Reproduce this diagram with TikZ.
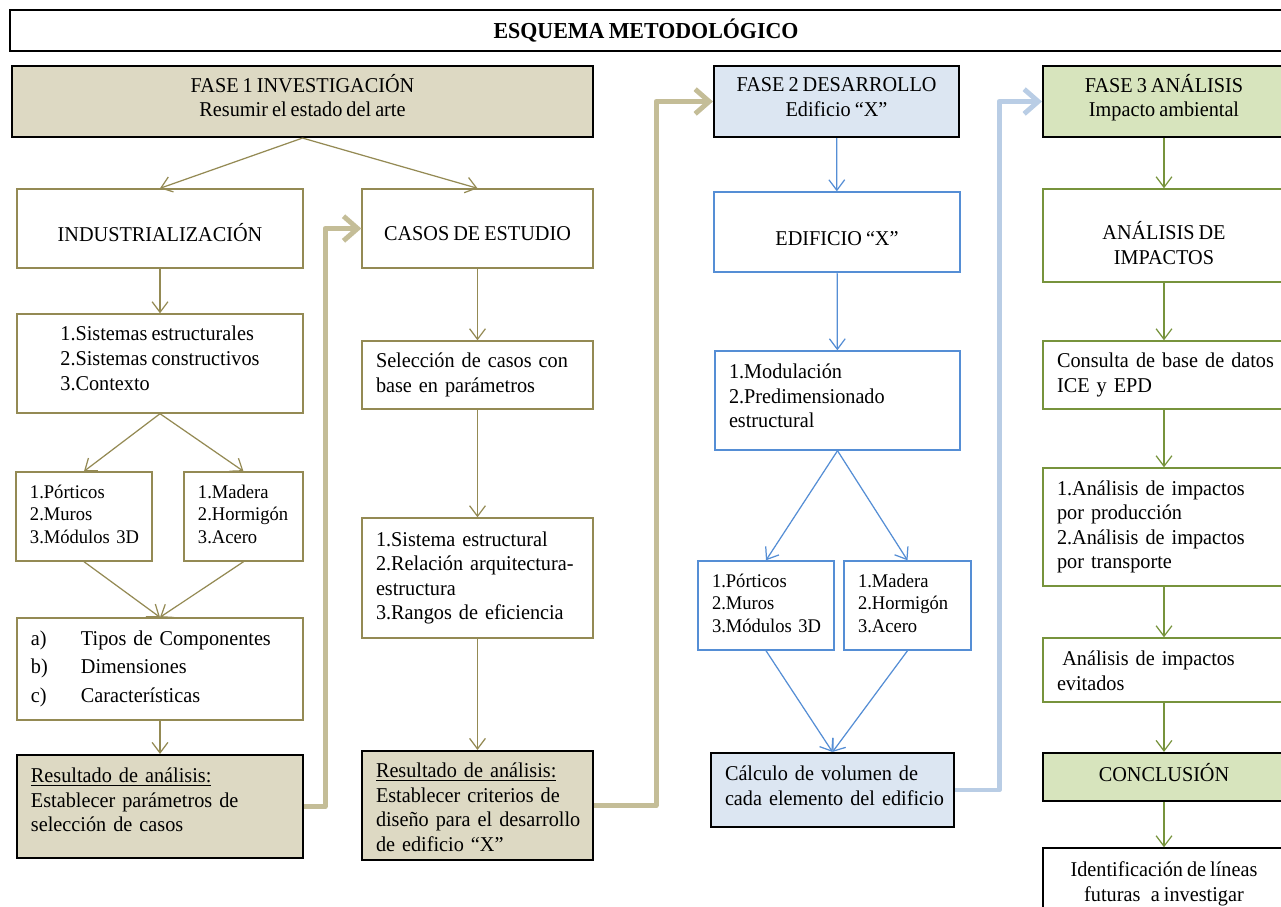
\documentclass[tikz,border=0pt]{standalone}
\usepackage{fontspec}
\setmainfont[FakeStretch=0.96,WordSpace=0.8]{Liberation Serif}
\usetikzlibrary{arrows.meta}

\definecolor{tanfill}{HTML}{DDD9C3}
\definecolor{tanline}{HTML}{948A54}
\definecolor{tanpath}{HTML}{C4BD97}
\definecolor{bluefill}{HTML}{DCE6F2}
\definecolor{blueline}{HTML}{558ED5}
\definecolor{bluepath}{HTML}{B9CDE5}
\definecolor{greenfill}{HTML}{D7E4BD}
\definecolor{greenline}{HTML}{77933C}

\newcommand{\rows}[1]{\begin{tabular}{@{}l@{}}#1\end{tabular}}
\newcommand{\crows}[1]{\begin{tabular}{@{}c@{}}#1\end{tabular}}
\newcommand{\moved}[2]{\raisebox{#1}[\height][\depth]{#2}}

\tikzset{
  cbox/.style 2 args={rectangle, draw, line width=0.8pt, inner sep=0pt,
    minimum width=#1*0.02cm, minimum height=#2*0.02cm, align=center},
  lbox/.style 2 args={rectangle, draw, line width=0.8pt, inner ysep=0pt,
    inner xsep=0.28cm, minimum width=#1*0.02cm, minimum height=#2*0.02cm,
    text width=#1*0.02cm-0.56cm, align=left},
  phase/.style={draw=black, line width=1.2pt},
  olivebox/.style={draw=tanline},
  bluebox/.style={draw=blueline},
  greenbox/.style={draw=greenline},
  small/.style={font=\fontsize{11}{12.6}\selectfont},
  arr/.style={-{Straight Barb[length=6pt,width=9pt]}, line width=0.7pt},
  link/.style={-{Straight Barb[length=8pt,width=14pt]}, line width=2.8pt,
    line join=round}
}

\begin{document}
\begin{tikzpicture}[x=0.02cm, y=-0.02cm, font=\fontsize{12}{14}\selectfont]
  \fill[white] (0,0) rectangle (1281,906);
  \useasboundingbox (0,0) rectangle (1281,906);

  % Title
  \node[cbox={1272}{41}, phase, font=\fontsize{13}{14}\selectfont\bfseries]
    (titulo) at (646,30.5) {ESQUEMA METODOLÓGICO};

  % Fase 1
  \node[cbox={581}{71}, phase, fill=tanfill] (fase1) at (302.5,101.5)
    {\moved{1.3pt}{\crows{FASE 1 INVESTIGACIÓN\\Resumir el estado del arte}}};
  \node[cbox={286}{79}, olivebox] (indus) at (160,228.5)
    {\moved{-2.3pt}{INDUSTRIALIZACIÓN}};
  \node[cbox={231}{79}, olivebox] (casos) at (477.5,228.5)
    {\moved{-2.8pt}{CASOS DE ESTUDIO}};
  \node[cbox={286}{99}, olivebox] (sist) at (160,363.5)
    {\moved{1.7pt}{\rows{1.Sistemas estructurales\\2.Sistemas constructivos\\3.Contexto}}};
  \node[lbox={136}{89}, olivebox, small] (port1) at (84,516.5)
    {\rows{1.Pórticos\\2.Muros\\3.Módulos 3D}};
  \node[lbox={119}{89}, olivebox, small] (mat1) at (243.5,516.5)
    {\rows{1.Madera\\2.Hormigón\\3.Acero}};
  \node[lbox={286}{102}, olivebox] (comp) at (160,669)
    {\begin{tabular}{@{}p{1cm}@{}l@{}}
      a) & Tipos de Componentes\\[2pt]
      b) & Dimensiones\\[2pt]
      c) & Características
    \end{tabular}};
  \node[lbox={286}{103}, phase, fill=tanfill] (res1) at (160,806.5)
    {\moved{2.3pt}{\rows{\underline{Resultado de análisis:}\\Establecer parámetros de\\selección de casos}}};
  \node[lbox={231}{68}, olivebox] (selec) at (477.5,375)
    {\rows{Selección de casos con\\base en parámetros}};
  \node[lbox={231}{120}, olivebox] (crit) at (477.5,578)
    {\rows{1.Sistema estructural\\2.Relación arquitectura-\\estructura\\3.Rangos de eficiencia}};
  \node[lbox={231}{109}, phase, fill=tanfill] (res2) at (477.5,805.5)
    {\moved{-2.3pt}{\rows{\underline{Resultado de análisis:}\\Establecer criterios de\\diseño para el desarrollo\\de edificio “X”}}};

  \draw[arr, tanline] (fase1.south) -- (indus.north);
  \draw[arr, tanline] (fase1.south) -- (casos.north);
  \draw[arr, tanline] (indus) -- (sist);
  \draw[arr, tanline] (sist.south) -- (port1.north);
  \draw[arr, tanline] (sist.south) -- (mat1.north);
  \draw[arr, tanline] (port1.south) -- (comp.north);
  \draw[arr, tanline] (mat1.south) -- (comp.north);
  \draw[arr, tanline] (comp) -- (res1);
  \draw[arr, tanline] (casos) -- (selec);
  \draw[arr, tanline] (selec) -- (crit);
  \draw[arr, tanline] (crit) -- (res2);

  % Fase 2
  \node[cbox={245}{71}, phase, fill=bluefill] (fase2) at (836.5,101.5)
    {\moved{1.3pt}{\crows{FASE 2 DESARROLLO\\Edificio “X”}}};
  \node[cbox={246}{80}, bluebox] (edif) at (837,232)
    {\moved{-4pt}{EDIFICIO “X”}};
  \node[lbox={245}{99}, bluebox] (modul) at (837.5,400.5)
    {\moved{1.2pt}{\rows{1.Modulación\\2.Predimensionado\\estructural}}};
  \node[lbox={136}{89}, bluebox, small] (port2) at (766,605.5)
    {\rows{1.Pórticos\\2.Muros\\3.Módulos 3D}};
  \node[lbox={127}{89}, bluebox, small] (mat2) at (907.5,605.5)
    {\rows{1.Madera\\2.Hormigón\\3.Acero}};
  \node[lbox={243}{74}, phase, fill=bluefill] (calc) at (832.5,790)
    {\moved{1pt}{\rows{Cálculo de volumen de\\cada elemento del edificio}}};

  \draw[arr, blueline] (fase2) -- (edif);
  \draw[arr, blueline] (edif) -- (modul);
  \draw[arr, blueline] (modul.south) -- (port2.north);
  \draw[arr, blueline] (modul.south) -- (mat2.north);
  \draw[arr, blueline] (port2.south) -- (calc.north);
  \draw[arr, blueline] (mat2.south) -- (calc.north);

  % Fase 3
  \node[cbox={242}{71}, phase, fill=greenfill] (fase3) at (1164,101.5)
    {\moved{1.3pt}{\crows{FASE 3 ANÁLISIS\\Impacto ambiental}}};
  \node[cbox={242}{93}, greenbox] (impac) at (1164,235.5)
    {\moved{-6.5pt}{\crows{ANÁLISIS DE\\IMPACTOS}}};
  \node[lbox={242}{68}, greenbox] (consulta) at (1164,375)
    {\rows{Consulta de base de datos\\ICE y EPD}};
  \node[lbox={242}{118}, greenbox] (prod) at (1164,527)
    {\rows{1.Análisis de impactos\\por producción\\2.Análisis de impactos\\por transporte}};
  \node[lbox={242}{64}, greenbox] (evit) at (1164,670)
    {\moved{-1.7pt}{\rows{\hspace{3pt}Análisis de impactos\\evitados}}};
  \node[cbox={242}{48}, phase, fill=greenfill] (concl) at (1164,777)
    {\moved{2.3pt}{CONCLUSIÓN}};
  \node[cbox={242}{66}, draw=black] (ident) at (1164,881)
    {\moved{-1.7pt}{\crows{Identificación de líneas\\futuras\hspace{0.5em}a investigar}}};

  \draw[arr, greenline] (fase3) -- (impac);
  \draw[arr, greenline] (impac) -- (consulta);
  \draw[arr, greenline] (consulta) -- (prod);
  \draw[arr, greenline] (prod) -- (evit);
  \draw[arr, greenline] (evit) -- (concl);
  \draw[arr, greenline] (concl) -- (ident);

  % Links between phases
  \draw[link, tanpath] (res1.east) -- ++(21,0) |- (casos.west);
  \draw[link, tanpath] (res2.east) -- ++(62,0) |- (fase2.west);
  \draw[link, bluepath] (calc.east) -- ++(44,0) |- (fase3.west);
\end{tikzpicture}
\end{document}
